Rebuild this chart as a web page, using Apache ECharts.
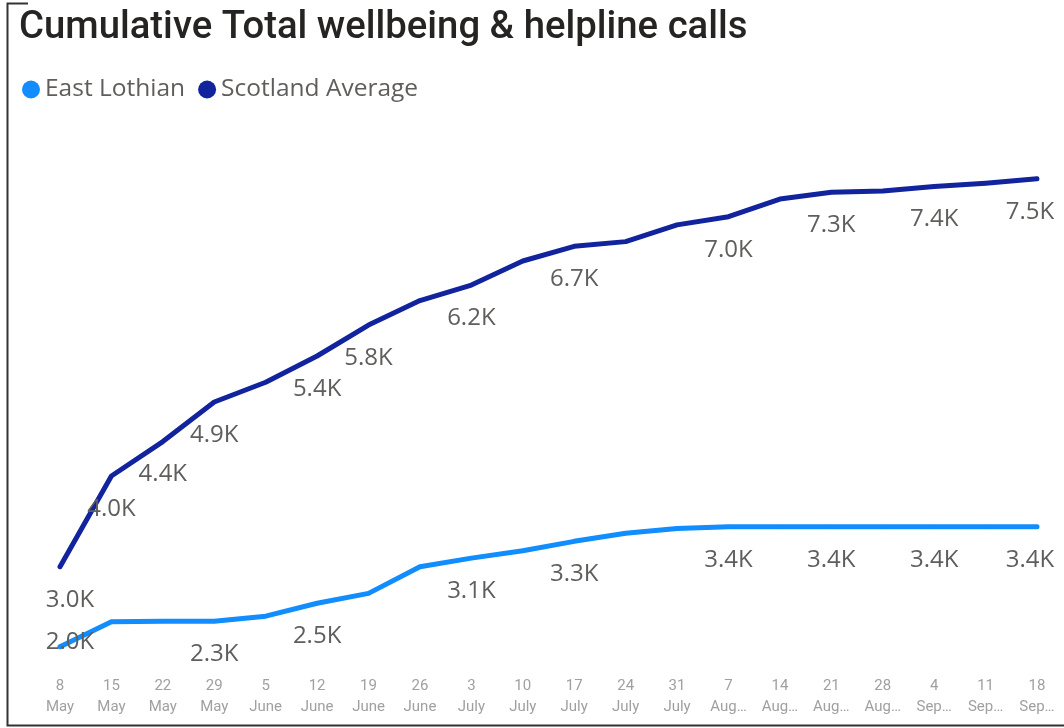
<!DOCTYPE html>
<html>
<head>
<meta charset="utf-8">
<script src="https://cdn.jsdelivr.net/npm/echarts@6/dist/echarts.min.js"></script>
<style>
html,body{margin:0;padding:0;background:#fff;}
#c{width:1064px;height:728px;}
</style>
</head>
<body>
<div id="c"></div>
<script>
const days = ['8','15','22','29','5','12','19','26','3','10','17','24','31','7','14','21','28','4','11','18'];
const months = ['May','May','May','May','June','June','June','June','July','July','July','July','July','Aug…','Aug…','Aug…','Aug…','Sep…','Sep…','Sep…'];
const eastLothian = [2035,2325,2330,2330,2390,2540,2655,2965,3065,3150,3260,3355,3410,3430,3430,3430,3430,3430,3430,3430];
const scotlandAvg = [2965,4020,4420,4880,5110,5415,5775,6060,6240,6520,6690,6745,6940,7035,7240,7320,7335,7385,7425,7475];
const eastLabelIdx = [0,3,5,8,10,13,15,17,19];
const scotLabelIdx = [0,1,2,3,5,6,8,10,13,15,17,19];

const categories = days.map((d,i)=>d+'\n'+months[i]);
const fmtK = v => (v/1000).toFixed(1)+'K';
const labelFont = '"Segoe UI","Open Sans",sans-serif';
const lastIdx = days.length - 1;

function build(vals, idx){
  return vals.map((v,i)=>({value:v, label:{show: idx.indexOf(i)>=0}}));
}
function layoutFor(isEast){
  return function(params){
    if(params.dataIndex===0){
      return isEast ? {dx:10, dy:-38} : {dx:10, dy:0};
    }
    if(params.dataIndex===lastIdx){
      return {dx:-7, dy:0};
    }
    return {};
  };
}

const chart = echarts.init(document.getElementById('c'));
chart.setOption({
  animation:false,
  backgroundColor:'#fff',
  title:{
    text:'Cumulative Total wellbeing & helpline calls',
    left:14, top:4,
    textStyle:{fontFamily:'Roboto, sans-serif', fontSize:38.3, fontWeight:500, color:'#252423'}
  },
  legend:{
    left:17, top:72,
    icon:'circle', itemWidth:18, itemHeight:18, itemGap:13,
    textStyle:{fontFamily:labelFont, fontSize:24.5, color:'#605E5C'},
    data:['East Lothian','Scotland Average']
  },
  grid:{left:60, right:27, top:133.7, bottom:61.1, containLabel:false},
  xAxis:{
    type:'category', boundaryGap:false, data:categories,
    axisLine:{show:false}, axisTick:{show:false}, splitLine:{show:false},
    axisLabel:{interval:0, margin:9, fontFamily:'Roboto, sans-serif', fontSize:15, lineHeight:21, color:'#a0a0a0'}
  },
  yAxis:{type:'value', min:1800, max:8000, show:false, splitLine:{show:false}},
  series:[
    {
      name:'East Lothian', type:'line', showSymbol:true, showAllSymbol:true, symbol:'circle', symbolSize:4,
      color:'#118DFF',
      itemStyle:{color:'#118DFF'},
      lineStyle:{width:5, color:'#118DFF', cap:'round', join:'round'},
      label:{position:'bottom', distance:19, formatter:p=>fmtK(p.value), fontFamily:labelFont, fontSize:24, color:'#605E5C'},
      labelLayout:layoutFor(true),
      data:build(eastLothian, eastLabelIdx)
    },
    {
      name:'Scotland Average', type:'line', showSymbol:true, showAllSymbol:true, symbol:'circle', symbolSize:4,
      color:'#12239E',
      itemStyle:{color:'#12239E'},
      lineStyle:{width:5, color:'#12239E', cap:'round', join:'round'},
      label:{position:'bottom', distance:19, formatter:p=>fmtK(p.value), fontFamily:labelFont, fontSize:24, color:'#605E5C'},
      labelLayout:layoutFor(false),
      data:build(scotlandAvg, scotLabelIdx)
    }
  ],
  graphic:[
    {type:'polyline', silent:true, shape:{points:[[28,3.5],[7.5,3.5],[7.5,725.5],[1064,725.5]]}, style:{stroke:'#333', lineWidth:2, fill:null}}
  ]
});
</script>
</body>
</html>
